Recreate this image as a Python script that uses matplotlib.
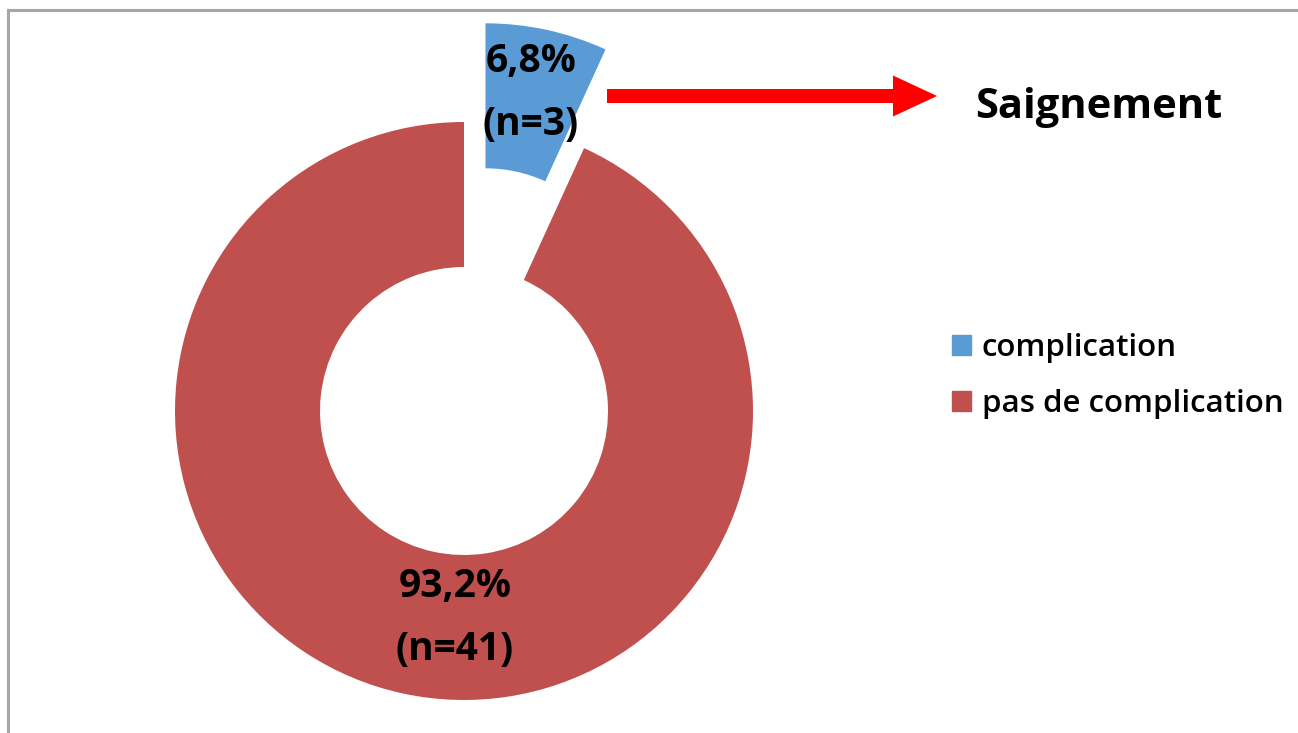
import matplotlib
matplotlib.use("Agg")
import matplotlib.pyplot as plt
from matplotlib.lines import Line2D
from matplotlib.patches import FancyArrow

plt.rcParams["font.family"] = ["Open Sans", "DejaVu Sans"]

# counts per group
categories = ["complication", "pas de complication"]
counts = [3, 41]
colors = ["#5B9BD5", "#C0504D"]
callout = "Saignement"

W, H = 1298, 733
fig = plt.figure(figsize=(W / 100, H / 100), dpi=100)
ax = fig.add_axes([0, 0, 1, 1])
ax.set_aspect("equal")
ax.axis("off")

# donut geometry in pixel units (y measured from the bottom)
cx, cy = 464, H - 411
R = 289
ring = 145
explode = [101, 0]  # pie offsets are in data units here

wedges, _ = ax.pie(counts, colors=colors, startangle=90, counterclock=False,
                   radius=R, center=(cx, cy), explode=explode,
                   wedgeprops=dict(width=ring, linewidth=0))
ax.set_xlim(0, W)
ax.set_ylim(0, H)

total = sum(counts)
pcts = [c / total * 100 for c in counts]
labels = [f"{p:.1f}".replace(".", ",") + f"%\n(n={c})" for p, c in zip(pcts, counts)]

# label positions
label_xy = [(531, H - 93), (455, H - 618)]
for (lx, ly), txt in zip(label_xy, labels):
    ax.text(lx, ly, txt, ha="center", va="center", fontsize=28,
            fontweight="bold", color="black", linespacing=1.8)

# red arrow pointing to the callout
ay = H - 96
ax.add_patch(FancyArrow(607, ay, 937 - 607, 0, width=14, head_width=41,
                        head_length=44, length_includes_head=True,
                        color="#FF0000", linewidth=0))
ax.text(975, H - 108, callout, ha="left", va="center", fontsize=30,
        fontweight="bold", color="black")

# legend
handles = [plt.Rectangle((0, 0), 1, 1, color=c) for c in colors]
fig.legend(handles, categories, loc="center left",
           bbox_to_anchor=(952 / W, 1 - 376 / H), frameon=False,
           prop=dict(size=22.5, weight="semibold"),
           handlelength=0.6, handleheight=0.6,
           handletextpad=0.35, labelspacing=0.85, borderpad=0, borderaxespad=0)

# outer chart frame (left and top edges visible)
fig.add_artist(Line2D([8 / W, 8 / W], [0, 1 - 10 / H], transform=fig.transFigure,
                      color="#A6A6A6", linewidth=2.2))
fig.add_artist(Line2D([8 / W, 1], [1 - 10 / H, 1 - 10 / H], transform=fig.transFigure,
                      color="#A6A6A6", linewidth=2.2))

fig.savefig("out.png", dpi=100, facecolor="white")
